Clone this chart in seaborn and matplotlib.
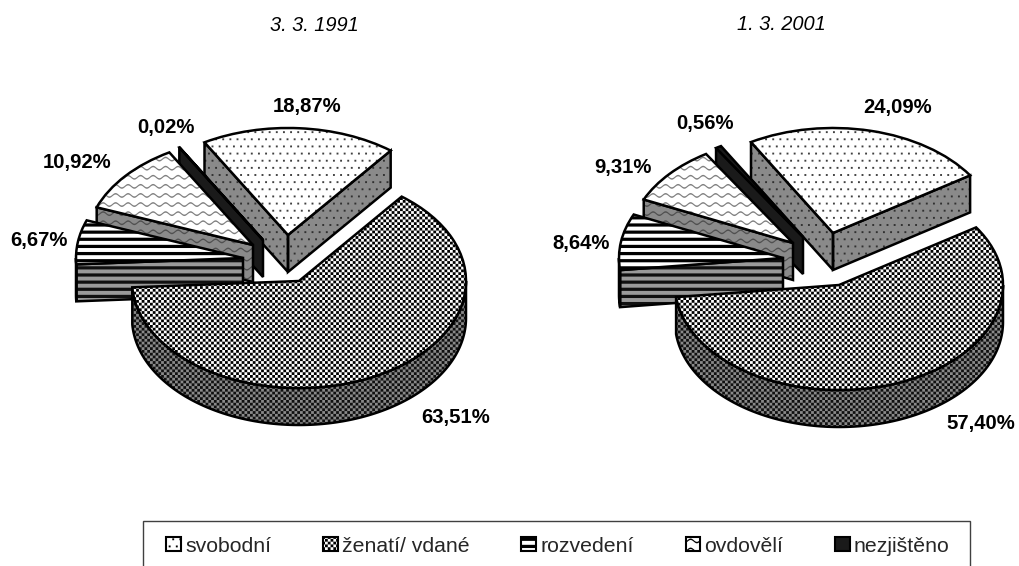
import warnings
import numpy as np
import seaborn as sns
import matplotlib
matplotlib.use('Agg')
import matplotlib.pyplot as plt
import matplotlib.hatch as mhatch
from matplotlib.path import Path
from matplotlib.patches import Wedge, Polygon, Patch, Rectangle

warnings.filterwarnings('ignore')

# Data
categories = ['svobodní', 'ženatí/ vdané', 'rozvedení', 'ovdovělí', 'nezjištěno']
values_1991 = [18.87, 63.51, 6.67, 10.92, 0.02]
values_2001 = [24.09, 57.40, 8.64, 9.31, 0.56]
labels_1991 = ['18,87%', '63,51%', '6,67%', '10,92%', '0,02%']
labels_2001 = ['24,09%', '57,40%', '8,64%', '9,31%', '0,56%']
titles = ['3. 3. 1991', '1. 3. 2001']

W, H = 1020, 566


def closed(pts):
    # one closed polygon for a hatch tile
    v = list(pts) + [pts[0]]
    c = [Path.MOVETO] + [Path.LINETO] * (len(pts) - 1) + [Path.CLOSEPOLY]
    return v, c


# Excel style fill patterns as custom hatches (tile is 100 px at dpi 100)
# all of them are filled polygons, hatch.linewidth stays 0
class TileHatch(mhatch.HatchPatternBase):
    char = ''

    def __init__(self, hatch, density):
        self.on = self.char in hatch
        self.v, self.c = [], []
        if self.on:
            self.build()
        self.num_vertices = len(self.v)

    def add(self, pts):
        v, c = closed(pts)
        self.v += v
        self.c += c

    def set_vertices_and_codes(self, vertices, codes):
        if self.on:
            vertices[:] = np.array(self.v)
            codes[:] = np.array(self.c, dtype=Path.code_type)


class CheckHatch(TileHatch):
    char = 'C'

    def build(self):
        n = 36
        s = 1.0 / n
        for i in range(n):
            for j in range(n):
                if (i + j) % 2 == 0:
                    x, y = i * s, j * s
                    self.add([(x, y), (x + s, y), (x + s, y + s), (x, y + s)])


class DotHatch(TileHatch):
    char = 'D'

    def build(self):
        n = 14
        s = 1.0 / n
        d = 0.0095
        for i in range(n):
            for j in range(n):
                x = (i + 0.25 + 0.5 * (j % 2)) * s
                y = (j + 0.5) * s
                self.add([(x - d, y - d), (x + d, y - d), (x + d, y + d), (x - d, y + d)])


class StripeHatch(TileHatch):
    char = 'S'

    def build(self):
        n = 14
        h = 0.016
        for j in range(n):
            y = (j + 0.5) / n
            self.add([(0, y - h), (1, y - h), (1, y + h), (0, y + h)])


class WaveHatch(TileHatch):
    char = 'W'

    def build(self):
        rows, periods, steps = 11, 8, 12
        amp, half = 0.017, 0.0075
        for j in range(rows):
            y0 = (j + 0.5) / rows
            for k in range(periods):
                for m in range(steps):
                    x1, x2 = (k + m / steps) / periods, (k + (m + 1) / steps) / periods
                    y1 = y0 + amp * np.sin(2 * np.pi * m / steps)
                    y2 = y0 + amp * np.sin(2 * np.pi * (m + 1) / steps)
                    self.add([(x1, y1 - half), (x2, y2 - half), (x2, y2 + half), (x1, y1 + half)])


for cls in (CheckHatch, DotHatch, StripeHatch, WaveHatch):
    mhatch._hatch_types.append(cls)

# top face / side face styling per category: (face, hatch colour, hatch)
top_style = [('white', '#404040', 'D'), ('white', 'black', 'C'), ('white', 'black', 'S'),
             ('white', '#808080', 'W'), ('#1a1a1a', '#1a1a1a', None)]
side_style = [('#8a8a8a', '#303030', 'D'), ('#8a8a8a', '#101010', 'C'), ('#9a9a9a', '#101010', 'S'),
              ('#8a8a8a', '#505050', 'W'), ('#1a1a1a', '#1a1a1a', None)]
draw_order = [0, 4, 3, 2, 1]

sns.set_theme(style='white')
plt.rcParams['font.family'] = ['Liberation Sans', 'DejaVu Sans']
plt.rcParams['hatch.linewidth'] = 0.0

fig = plt.figure(figsize=(W / 100, H / 100), dpi=100, facecolor='white')

LW = 1.8


def draw_pie(values, labels, title, title_x, radii, depth, apexes, label_pos):
    a, b = radii
    # pixel -> data: every slice has unit radius, axes spans the whole figure
    ref_x, ref_y = apexes[1]
    to_x = lambda px: (px - ref_x) / a
    to_y = lambda py: (ref_y - py) / b
    ax = fig.add_axes([0, 0, 1, 1])
    ax.patch.set_alpha(0)
    wedges, _ = ax.pie(values, startangle=120, counterclock=False, radius=1)
    ax.set_aspect('auto')
    ax.set_xlim(to_x(0), to_x(W))
    ax.set_ylim(to_y(H), to_y(0))
    d = depth / b

    for order, i in enumerate(draw_order):
        w = wedges[i]
        cx, cy = to_x(apexes[i][0]), to_y(apexes[i][1])
        w.set_center((cx, cy))
        t1, t2 = w.theta1, w.theta2
        z = 10 * order

        # side faces
        polys = []
        cut_faces = []
        if np.cos(np.radians(t2)) < 0:  # cut face at the clockwise start
            cut_faces.append(t2)
        if np.cos(np.radians(t1)) > 0:  # cut face at the clockwise end
            cut_faces.append(t1)
        for f in cut_faces:
            t = np.radians(f)
            px, py = cx + np.cos(t), cy + np.sin(t)
            polys.append([(cx, cy), (px, py), (px, py - d), (cx, cy - d)])
        # outer wall, only its lower half shows
        ang = np.arange(np.ceil(t1), np.floor(t2) + 1.0)
        ang = np.concatenate([[t1], ang, [t2]])
        ang = ang[np.sin(np.radians(ang)) <= 0.0001]
        if len(ang) > 1:
            r = np.radians(ang)
            rim = np.column_stack([cx + np.cos(r), cy + np.sin(r)])
            low = rim - [0, d]
            polys.append(np.vstack([rim, low[::-1]]))

        fc, hc, ht = side_style[i]
        for pts in polys:
            ax.add_patch(Polygon(pts, closed=True, facecolor=fc, edgecolor=hc, hatch=ht,
                                 lw=0, zorder=z))
            ax.add_patch(Polygon(pts, closed=True, fill=False, edgecolor='black',
                                 lw=LW, joinstyle='miter', zorder=z + 1))

        # top face
        fc, hc, ht = top_style[i]
        w.set(facecolor=fc, edgecolor=hc, hatch=ht, lw=0, zorder=z + 2)
        ax.add_patch(Wedge((cx, cy), 1, t1, t2, fill=False, edgecolor='black',
                           lw=LW, joinstyle='miter', zorder=z + 3))

    for lab, (lx, ly) in zip(labels, label_pos):
        ax.text(to_x(lx), to_y(ly), lab, ha='center', va='center', fontsize=14.6,
                fontweight='bold', color='black', zorder=100)
    ax.text(to_x(title_x), to_y(25), title, ha='center', va='center', fontsize=14.4,
            style='italic', color='black', zorder=100)


draw_pie(values_1991, labels_1991, titles[0], 314, (167, 107), 37,
         [(288, 235), (299, 281), (243, 258), (253, 245), (263, 240)],
         [(307, 106), (456, 417), (39, 240), (77, 162), (166, 127)])
draw_pie(values_2001, labels_2001, titles[1], 781, (164, 105), 37,
         [(833, 233), (839, 285), (783, 258), (793, 243), (803, 237)],
         [(898, 107), (981, 424), (581, 243), (623, 167), (705, 123)])

# Legend, its frame runs off the bottom of the picture
fig.add_artist(Rectangle((143 / W, 1 - 572 / H), 827 / W, 51 / H, transform=fig.transFigure,
                         fill=False, edgecolor='#404040', lw=1.0))
handles = [Patch(facecolor=top_style[i][0], edgecolor='black', hatch=top_style[i][2], lw=1.5)
           for i in range(5)]
leg = fig.legend(handles, categories, loc='center', ncol=5,
                 bbox_to_anchor=(558 / W, 1 - 546 / H), fontsize=15.3, frameon=False,
                 handlelength=0.68, handleheight=0.68, handletextpad=0.2, columnspacing=2.45,
                 borderpad=0)

fig.savefig('out.png', dpi=100, facecolor='white')
